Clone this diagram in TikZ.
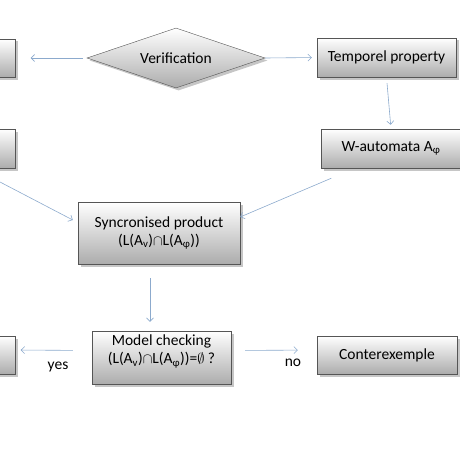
\documentclass[tikz,border=0pt]{standalone}
\usepackage{fontspec}
\setmainfont{Carlito}
\usepackage{tikz}
\usetikzlibrary{calc}
\usetikzlibrary{arrows.meta}
\usetikzlibrary{shapes.geometric}
\usetikzlibrary{shadows}
\definecolor{flowblue}{RGB}{140,170,205}
\definecolor{boxline}{RGB}{85,85,85}
\tikzset{>={Straight Barb[length=3.5pt,width=7pt]}}
\tikzstyle{stage} = [rectangle, draw=boxline, top color=white, bottom color=gray!65, drop shadow={shadow xshift=2.5pt, shadow yshift=-2.5pt, opacity=.45}, align=center, inner sep=0pt, font=\fontsize{15.5}{18}\selectfont]
\tikzstyle{decide} = [diamond, draw=boxline, top color=white, bottom color=gray!65, drop shadow={shadow xshift=2.5pt, shadow yshift=-2.5pt, opacity=.45}, inner sep=0pt, aspect=3, font=\fontsize{15.5}{18}\selectfont]
\tikzstyle{flow} = [->, draw=flowblue, line width=.6pt]

\begin{document}
\begin{tikzpicture}[x=1pt, y=-1pt]
\useasboundingbox (0,0) rectangle (460,460);
\clip (0,0) rectangle (460,460);
% top row
\node [stage, minimum width=139pt, minimum height=38pt] (leftTop) at (-54,58) {};
\node [decide, minimum width=178pt, minimum height=60pt] (verif) at (176,58) {Verification};
\node [stage, minimum width=139pt, minimum height=39pt] (temp) at (386.5,57.5) {Temporel property};
% middle row
\node [stage, minimum width=139pt, minimum height=39pt] (leftMid) at (-54,148.5) {};
\node [stage, minimum width=139pt, minimum height=39pt] (wauto) at (391,148.5) {W-automata A\textsubscript{φ}};
\node [stage, minimum width=162pt, minimum height=62pt] (sync) at (159,233) {Syncronised product\\(L(A\textsubscript{v})$\cap$L(A\textsubscript{φ}))};
% bottom row
\node [stage, minimum width=139pt, minimum height=53pt, text depth=16pt] (mc) at (161.5,357.5) {Model checking\\(L(A\textsubscript{v})$\cap$L(A\textsubscript{φ}))=$\emptyset$ ?};
\node [stage, minimum width=139pt, minimum height=38pt] (leftBot) at (-54,355) {};
\node [stage, minimum width=140pt, minimum height=38pt] (conter) at (387,355) {Conterexemple};
\coordinate (midOut) at (0,182);
% connectors
\draw [flow, shorten <=4pt, shorten >=15pt] (verif.west) -- (leftTop.east);
\draw [flow, shorten >=5pt] (verif.east) -- (temp.west);
\draw [flow, shorten <=6pt, shorten >=4pt] (temp.south) -- (wauto.north);
\draw [flow] (midOut) -- ([xshift=-5pt, yshift=13pt]sync.west);
\draw [flow] ([xshift=10pt, yshift=-10pt]wauto.south west) -- ([yshift=16pt]sync.east);
\draw [flow, shorten <=14pt, shorten >=9pt] ([xshift=-9pt]sync.south) -- ([xshift=-11.5pt]mc.north);
\draw [flow, shorten <=19pt, shorten >=5pt] ([yshift=7pt]mc.west) -- ([yshift=5pt]leftBot.east);
\draw [flow, shorten <=14pt, shorten >=19pt] ([yshift=7pt]mc.east) -- ([yshift=5pt]conter.west);
\node [font=\fontsize{15.5}{18}\selectfont] (yes) at (58,367) {yes};
\node [font=\fontsize{15.5}{18}\selectfont] (no) at (293,363) {no};
\end{tikzpicture}
\end{document}
